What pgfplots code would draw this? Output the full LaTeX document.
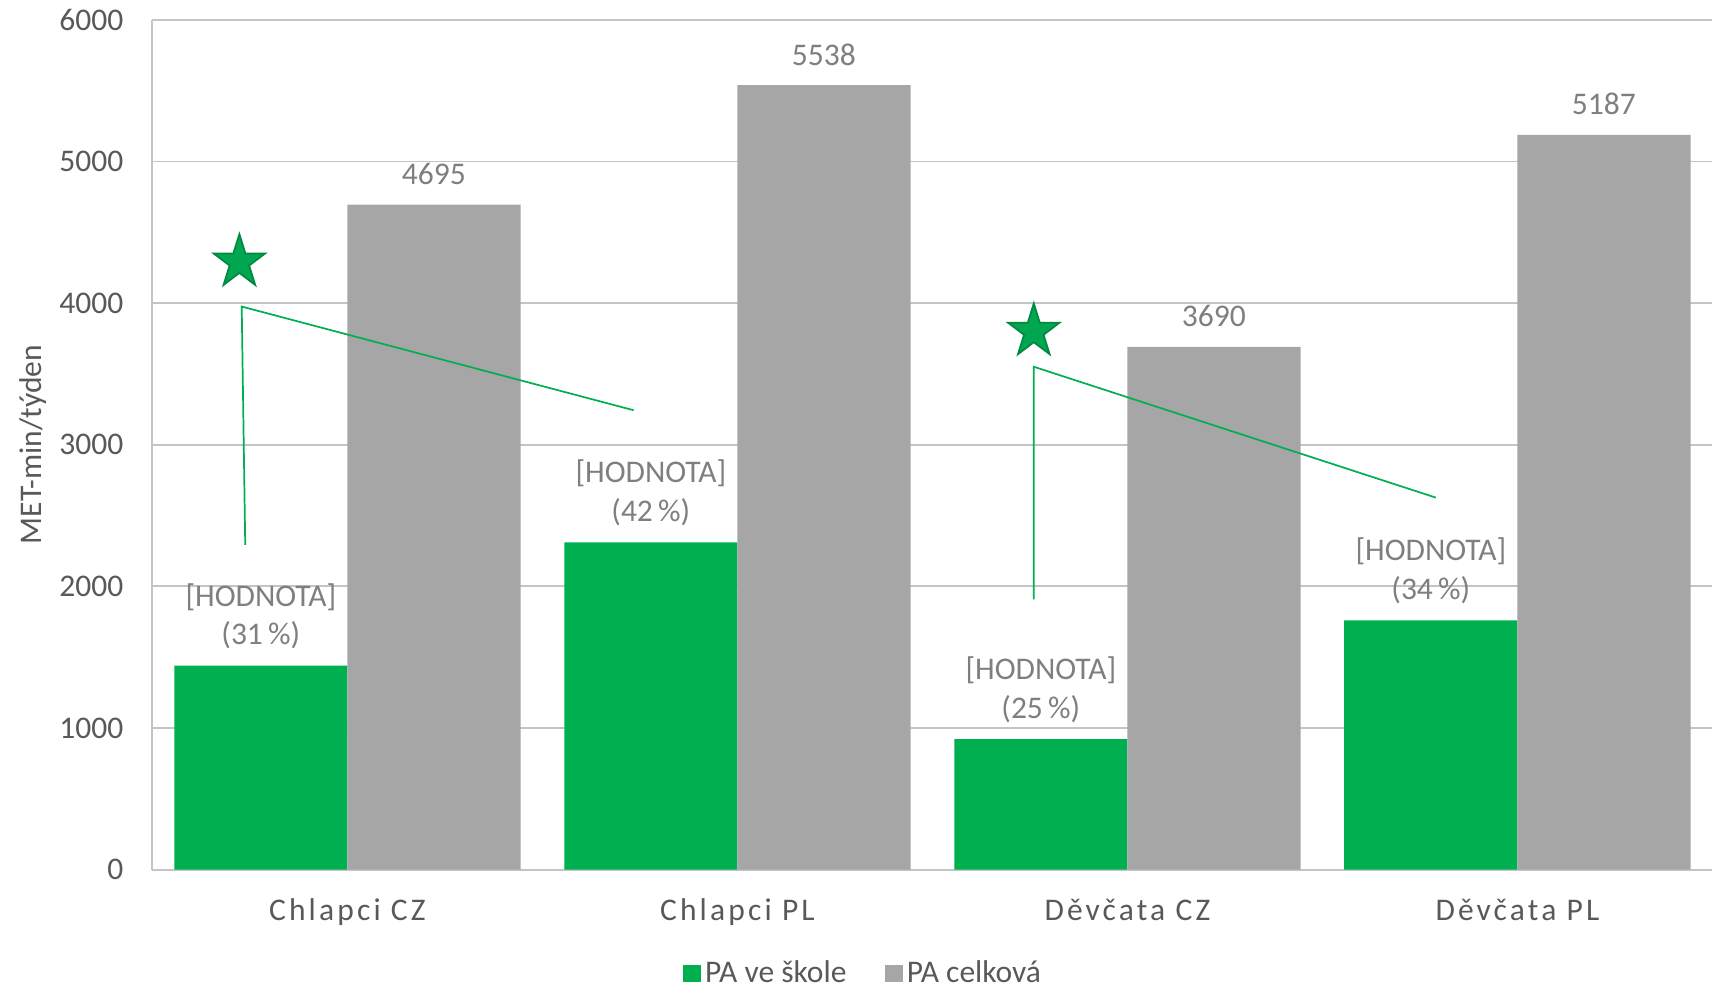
\documentclass[border=0pt]{standalone}
\usepackage{fontspec}
\setmainfont{Carlito}
\newfontfamily\spacedfont[LetterSpace=10]{Carlito}
\usepackage{pgfplots}
\pgfplotsset{compat=1.18}

\definecolor{barGreen}{HTML}{00B050}
\definecolor{barGray}{HTML}{A6A6A6}
\definecolor{gridGray}{HTML}{C4C4C4}
\definecolor{textGray}{HTML}{595959}
\definecolor{labelGray}{HTML}{7F7F7F}
\definecolor{starFill}{HTML}{00A650}
\definecolor{starEdge}{HTML}{008A40}
\definecolor{lineGreen}{HTML}{00B050}

\newcommand{\chartfont}{\fontsize{11}{13.4}\selectfont}

% five-pointed filled star, slightly taller than wide
\pgfdeclareplotmark{bigstar}{%
  \pgfpathmoveto{\pgfqpoint{0pt}{9.8pt}}%
  \pgfpathlineto{\pgfqpoint{-2.110pt}{3.026pt}}%
  \pgfpathlineto{\pgfqpoint{-8.940pt}{3.028pt}}%
  \pgfpathlineto{\pgfqpoint{-3.414pt}{-1.156pt}}%
  \pgfpathlineto{\pgfqpoint{-5.525pt}{-7.928pt}}%
  \pgfpathlineto{\pgfqpoint{0pt}{-3.74pt}}%
  \pgfpathlineto{\pgfqpoint{5.525pt}{-7.928pt}}%
  \pgfpathlineto{\pgfqpoint{3.414pt}{-1.156pt}}%
  \pgfpathlineto{\pgfqpoint{8.940pt}{3.028pt}}%
  \pgfpathlineto{\pgfqpoint{2.110pt}{3.026pt}}%
  \pgfpathclose
  \pgfusepathqfillstroke
}

\pgfplotsset{
  sqlegend/.style={legend image code/.code={\fill[##1] (0pt,-3.05pt) rectangle (6.1pt,3.05pt);}},
}

\begin{document}
\begin{tikzpicture}
\begin{axis}[
  scale only axis,
  width=544.5pt, height=296.6pt,
  xmin=-0.5, xmax=3.5, ymin=0, ymax=6000,
  xtick={0,1,2,3},
  xticklabels={Chlapci CZ, Chlapci PL, Děvčata CZ, Děvčata PL},
  ytick={0,1000,...,6000},
  axis x line*=bottom, axis y line*=left,
  axis line style={draw=gridGray, line width=0.7pt},
  major tick length=0pt,
  ymajorgrids,
  grid style={draw=gridGray, line width=0.6pt},
  /pgf/number format/assume math mode=true,
  /pgf/number format/1000 sep={},
  tick label style={font=\chartfont, text=textGray},
  yticklabel style={xshift=-6.6pt},
  xticklabel style={font=\spacedfont\chartfont, text height=8pt, text depth=2pt, yshift=-6.3pt},
  ylabel={MET-min/týden},
  every axis y label/.style={at={(axis description cs:-0.0766,0.5)}, rotate=90, anchor=center, font=\chartfont, text=textGray},
  legend style={at={(axis description cs:0.4564,-0.1225)}, anchor=center,
    draw=none, fill=none, inner sep=0pt, font=\chartfont,
    nodes={inner sep=1.5pt, text=textGray},
    /tikz/every even column/.append style={column sep=12pt}},
  legend columns=2,
]

% PA ve škole, labelled with its share of the total
\addplot[ybar, bar width=0.444, bar shift=-0.222, fill=barGreen, draw=none, sqlegend,
  point meta=explicit symbolic,
  nodes near coords={{[HODNOTA]}\\(\pgfplotspointmeta\,\%)},
  every node near coord/.append style={align=center, font=\chartfont, text=labelGray, xshift=-30.2pt, yshift=2.3pt}]
  coordinates {(0,1440) [31] (1,2310) [42] (2,920) [25] (3,1760) [34]};
\addlegendentry{PA ve škole}

% PA celková
\addplot[ybar, bar width=0.444, bar shift=0.222, fill=barGray, draw=none, sqlegend,
  point meta=y, nodes near coords,
  every node near coord/.append style={font=\chartfont, text=labelGray, xshift=30.2pt, yshift=3.4pt}]
  coordinates {(0,4695) (1,5538) (2,3690) (3,5187)};
\addlegendentry{PA celková}

% connector lines
\addplot[forget plot, lineGreen, line width=0.6pt] coordinates {(-0.262,2292) (-0.271,3975) (0.734,3243)};
\addplot[forget plot, lineGreen, line width=0.6pt] coordinates {(1.760,1908) (1.760,3550) (2.791,2626)};

% stars
\addplot[forget plot, only marks, mark=bigstar, mark options={fill=starFill, draw=starEdge, line width=0.6pt}]
  coordinates {(-0.277,4288) (1.760,3799)};
\end{axis}
\pgfresetboundingbox
\path[use as bounding box] (-53.2pt,-42.1pt) rectangle (546.8pt,303.5pt);
\end{tikzpicture}
\end{document}
